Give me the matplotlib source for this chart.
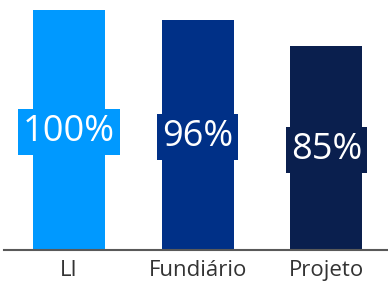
import matplotlib
matplotlib.use("Agg")
import matplotlib.pyplot as plt

categories = ["LI", "Fundiário", "Projeto"]
values = [100, 96, 85]
labels = ["100%", "96%", "85%"]
colors = ["#0099FF", "#003087", "#0A1F4E"]

fig = plt.figure(figsize=(3.88, 2.84), dpi=100)
ax = fig.add_axes([4/388, 34/284, 384/388, 250/284])
x = range(len(categories))
ax.bar(x, values, width=0.56, color=colors, zorder=2)
ax.set_xlim(-0.506, 2.48)
ax.set_ylim(0, 100 * 250 / 240)

for xi, v, lab, c in zip(x, values, labels, colors):
    ax.annotate(lab, (xi, v / 2), xytext=(0, -2), textcoords="offset pixels",
                ha="center", va="center", color="white",
                fontsize=26, family="Open Sans", zorder=3,
                bbox=dict(boxstyle="square,pad=0.14", fc=c, ec="none"))

for s in ["top", "right", "left"]:
    ax.spines[s].set_visible(False)
ax.spines["bottom"].set_color("#595959")
ax.spines["bottom"].set_linewidth(1.5)
ax.set_yticks([])
ax.set_xticks(list(x))
ax.set_xticklabels(categories, fontsize=16, color="#333333", family="Open Sans")
ax.tick_params(axis="x", length=0, pad=7)

fig.savefig("out.png", dpi=100)
